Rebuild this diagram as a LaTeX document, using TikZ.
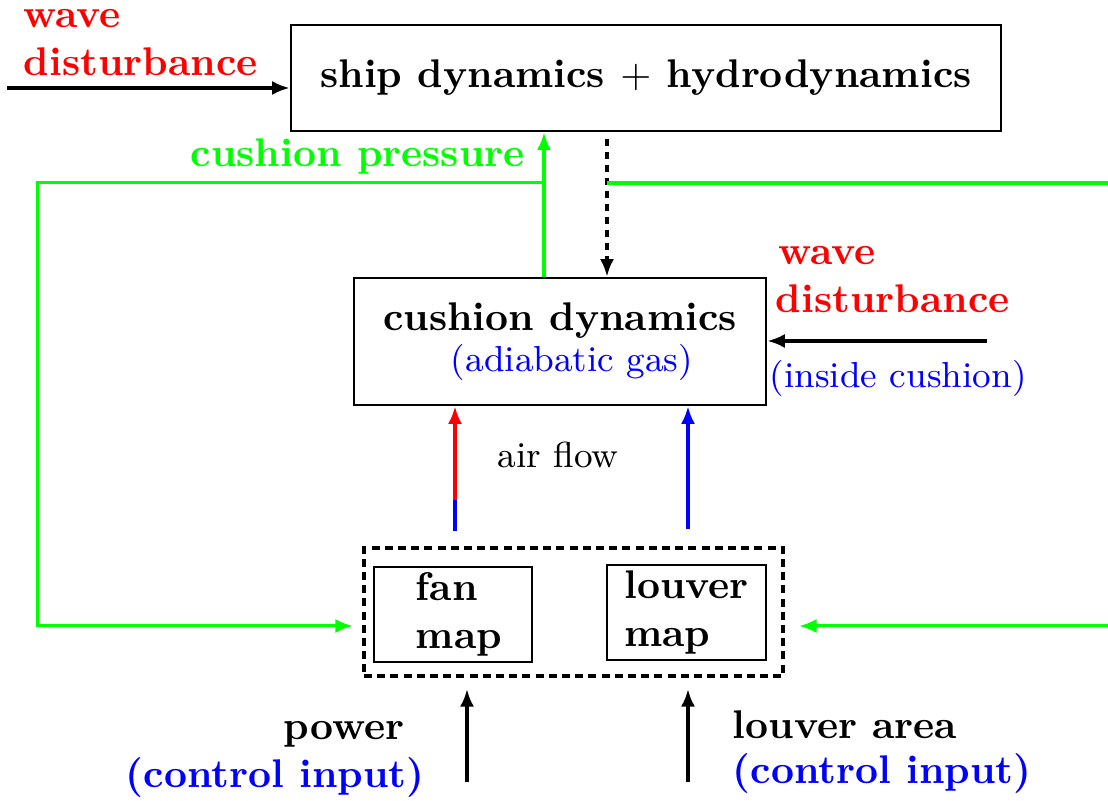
\documentclass[tikz,border=0pt]{standalone}
\usetikzlibrary{arrows.meta}
\definecolor{pgreen}{RGB}{0,255,0}
\definecolor{pred}{RGB}{255,0,0}
\definecolor{pblue}{RGB}{0,0,255}
\begin{document}
\begin{tikzpicture}[x=0.25pt,y=-0.25pt,
  box/.style={draw,line width=0.6pt,inner sep=0pt},
  bf/.style={font=\fontsize{10}{12}\selectfont\bfseries},
  rm/.style={font=\fontsize{9.05}{11}\selectfont},
  lbl/.style={inner sep=0pt},
  tip/.style={-{Latex[length=4.4pt,width=3.5pt]}},
  arr/.style={line width=0.9pt,tip},
  gthick/.style={pgreen,line width=1.05pt},
  gthin/.style={pgreen,line width=0.75pt},
  dasharr/.style={line width=1pt,dash pattern=on 1.75pt off 1.5pt,tip},
]
\useasboundingbox (0,0) rectangle (1108,801);

% boxes
\node[box,bf,minimum width=177.5pt,minimum height=26.5pt] (ship) at (646,78) {ship dynamics $+$ hydrodynamics};
\node[box,align=center,font=\fontsize{10}{10.25}\selectfont,minimum width=103pt,minimum height=31.75pt] (cush) at (560,341.5)
  {{\bfseries cushion dynamics}\\{\fontsize{9.05}{10.25}\selectfont\color{pblue}\hspace*{6pt}(adiabatic gas)}};
\node[draw,line width=1pt,dash pattern=on 2pt off 1.3pt,inner sep=0pt,minimum width=104.75pt,minimum height=32pt] (maps) at (573.5,612) {};
\node[box,bf,align=left,minimum width=39.5pt,minimum height=23.75pt] (fan) at (453,614.5) {\hspace*{3pt}fan\\\hspace*{3pt}map};
\node[box,bf,align=left,minimum width=39.75pt,minimum height=23.75pt] (louver) at (686.5,612.5) {louver\\map};

% labels
\node[lbl,bf,text=pred,anchor=base west] (w1a) at (23,28) {wave};
\node[lbl,bf,text=pred,anchor=base west] (w1b) at (23,76) {disturbance};
\node[lbl,bf,text=pgreen,anchor=base west] (cp) at (190,167) {cushion pressure};
\node[lbl,bf,text=pred,anchor=base west] (w2a) at (778,265) {wave};
\node[lbl,bf,text=pred,anchor=base west] (w2b) at (775,313) {disturbance};
\node[lbl,rm,text=pblue,anchor=base west] (ic) at (769,388) {(inside cushion)};
\node[lbl,rm,anchor=base west] (af) at (497,468) {air flow};
\node[lbl,bf,anchor=base east] (pw) at (405,740) {power};
\node[lbl,bf,text=pblue,anchor=base west] (ci1) at (125,788) {(control input)};
\node[lbl,bf,anchor=base west] (la) at (732,739) {louver area};
\node[lbl,bf,text=pblue,anchor=base west] (ci2) at (732,784) {(control input)};

% coordinates
\coordinate (wl) at (7,88);
\coordinate (gp) at (544,183);
\coordinate (dv) at (607,183);
\coordinate (gl) at (38,183);
\coordinate (gb) at (38,626);
\coordinate (gr) at (1108,183);
\coordinate (grb) at (1108,626);
\coordinate (wr) at (987,341);
\coordinate (fb) at (455,531);
\coordinate (fm) at (455,500);
\coordinate (lb) at (688,529);
\coordinate (p1) at (467,782);
\coordinate (p2) at (688,782);

% connectors
\draw[arr] (wl) -- (ship.west |- wl);
\draw[gthick,tip] (gp |- cush.north) -- (gp |- ship.south);
\draw[dasharr,shorten <=1.75pt] (dv |- ship.south) -- (dv |- cush.north);
\draw[gthin,tip,shorten >=2.25pt] (gp) -- (gl) -- (gb) -- (maps.west |- gb);
\draw[gthick] (dv) -- (gr);
\draw[gthin,tip,shorten >=3.5pt] (grb) -- (maps.east |- grb);
\draw[arr] (wr) -- (cush.east |- wr);
\draw[pblue,line width=0.95pt] (fb) -- (fm);
\draw[pred,line width=0.95pt,tip] (fm) -- (fm |- cush.south);
\draw[pblue,line width=0.95pt,tip] (lb) -- (lb |- cush.south);
\draw[arr,shorten >=2.75pt] (p1) -- (p1 |- maps.south);
\draw[arr,shorten >=2.75pt] (p2) -- (p2 |- maps.south);
\end{tikzpicture}
\end{document}
